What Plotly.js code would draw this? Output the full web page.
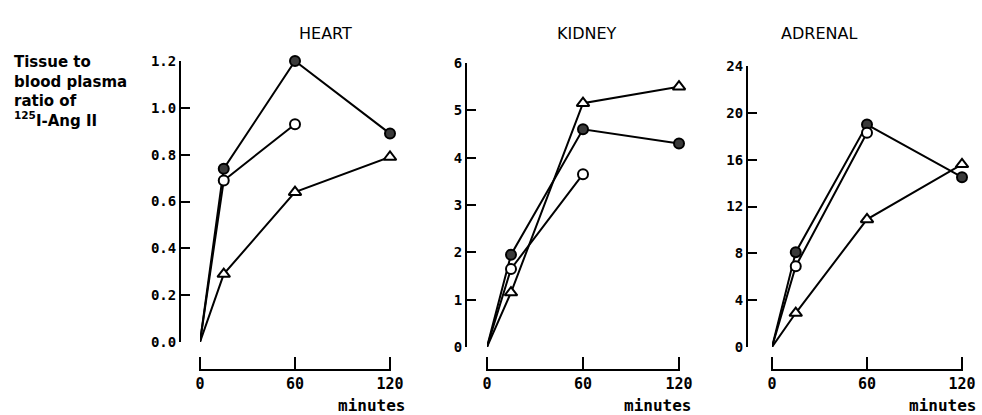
<!DOCTYPE html>
<html><head><meta charset="utf-8">
<script src="https://cdn.plot.ly/plotly-3.0.1.min.js"></script>
<style>html,body{margin:0;padding:0;background:#fff}#chart{width:982px;height:415px}</style>
</head><body><div id="chart"></div>
<script>
// time points (minutes)
const timesFull = [0, 15, 60, 120];
const timesShort = [0, 15, 60];

// panel titles
const panelTitles = ["HEART", "KIDNEY", "ADRENAL"];

// HEART
const heartFilled = [0, 0.74, 1.20, 0.89];
const heartOpen = [0, 0.69, 0.93];
const heartTriangle = [0, 0.29, 0.64, 0.79];

// KIDNEY
const kidneyFilled = [0, 1.95, 4.6, 4.3];
const kidneyOpen = [0, 1.65, 3.65];
const kidneyTriangle = [0, 1.15, 5.15, 5.5];

// ADRENAL
const adrenalFilled = [0, 8.1, 19.0, 14.5];
const adrenalOpen = [0, 6.9, 18.3];
const adrenalTriangle = [0, 2.9, 10.9, 15.6];

// axis ticks
const xTicks = [0, 60, 120];
const xRange = [0, 120];
const heartYTicks = [0, 0.2, 0.4, 0.6, 0.8, 1.0, 1.2];
const heartYLabels = ["0.0", "0.2", "0.4", "0.6", "0.8", "1.0", "1.2"];
const kidneyYTicks = [0, 1, 2, 3, 4, 5, 6];
const adrenalYTicks = [0, 4, 8, 12, 16, 20, 24];

const W = 982, H = 415;
const px = v => v / W;
const py = v => 1 - v / H;

// each series: a line from the origin, plus markers on the measured (non-origin) points
function series(x, y, xa, ya, kind) {
  const line = {x: x, y: y, xaxis: xa, yaxis: ya, type: 'scatter', mode: 'lines',
    line: {color: '#000', width: 2}, cliponaxis: false, showlegend: false, hoverinfo: 'skip'};
  const keep = x.map((t, i) => i).filter(i => x[i] !== 0);
  const m = {size: 10, line: {color: '#000', width: 2}};
  if (kind === 'filled') { m.symbol = 'circle'; m.color = '#3a3a3a'; }
  else if (kind === 'open') { m.symbol = 'circle'; m.color = '#fff'; }
  else { m.symbol = 'triangle-up'; m.color = '#fff'; m.size = 11; }
  const pts = {x: keep.map(i => x[i]), y: keep.map(i => y[i]), xaxis: xa, yaxis: ya,
    type: 'scatter', mode: 'markers', marker: m, cliponaxis: false, showlegend: false,
    hoverinfo: 'skip'};
  return [line, pts];
}

const data = [].concat(
  series(timesFull, heartFilled, 'x', 'y', 'filled'),
  series(timesShort, heartOpen, 'x', 'y', 'open'),
  series(timesFull, heartTriangle, 'x', 'y', 'tri'),
  series(timesFull, kidneyFilled, 'x2', 'y2', 'filled'),
  series(timesShort, kidneyOpen, 'x2', 'y2', 'open'),
  series(timesFull, kidneyTriangle, 'x2', 'y2', 'tri'),
  series(timesFull, adrenalFilled, 'x3', 'y3', 'filled'),
  series(timesShort, adrenalOpen, 'x3', 'y3', 'open'),
  series(timesFull, adrenalTriangle, 'x3', 'y3', 'tri')
);

const yTickFont = {family: 'DejaVu Sans Mono', size: 14, color: '#000', weight: 'bold'};
const xTickFont = {family: 'DejaVu Sans Mono', size: 15, color: '#000', weight: 'bold'};
const BASE = 370;   // pixel row of the time-axis baseline

function xaxis(x0, x1) {
  return {domain: [px(x0), px(x1)], range: xRange, anchor: 'free', position: py(BASE),
    showline: false, ticks: '', tickvals: xTicks, showgrid: false, zeroline: false,
    tickfont: xTickFont, ticklabelstandoff: 3, fixedrange: true};
}
function yaxis(yBottom, yTop, xpos, rng, vals, labels) {
  const a = {domain: [py(yBottom), py(yTop)], range: rng, anchor: 'free', position: px(xpos),
    showline: true, linecolor: '#000', linewidth: 2, ticks: 'inside', ticklen: 9,
    tickwidth: 2, tickcolor: '#000', tickvals: vals, showgrid: false, zeroline: false,
    tickfont: yTickFont, fixedrange: true};
  if (labels) a.ticktext = labels;
  return a;
}

const xa1 = xaxis(200, 390), xa2 = xaxis(487, 679), xa3 = xaxis(772, 962);

// time-axis baseline and upward ticks, placed along each x-axis domain from the tick values
const shapes = [];
[xa1, xa2, xa3].forEach(ax => {
  const d = ax.domain;
  const frac = t => d[0] + (t - xRange[0]) / (xRange[1] - xRange[0]) * (d[1] - d[0]);
  shapes.push({type: 'line', xref: 'paper', yref: 'paper', layer: 'above',
    x0: frac(xTicks[0]), x1: frac(xTicks[xTicks.length - 1]),
    y0: py(BASE), y1: py(BASE), line: {color: '#000', width: 2}});
  xTicks.forEach(t => shapes.push({type: 'line', xref: 'paper', yref: 'paper', layer: 'above',
    x0: frac(t), x1: frac(t), y0: py(BASE + 1), y1: py(BASE - 13),
    line: {color: '#000', width: 2}}));
});

const titleFont = {family: 'DejaVu Sans', size: 16, color: '#000'};
const minFont = {family: 'DejaVu Sans Mono', size: 16, color: '#000', weight: 'bold'};
const layout = {
  width: W, height: H, margin: {l: 0, r: 0, t: 0, b: 0},
  paper_bgcolor: '#fff', plot_bgcolor: 'rgba(0,0,0,0)',
  xaxis: xa1,
  yaxis: yaxis(342, 61, 180, [0, 1.2], heartYTicks, heartYLabels),
  xaxis2: xa2,
  yaxis2: yaxis(347, 63, 466, [0, 6], kidneyYTicks),
  xaxis3: xa3,
  yaxis3: yaxis(347, 66, 747, [0, 24], adrenalYTicks),
  shapes: shapes,
  annotations: [
    {text: panelTitles[0], x: px(297), y: py(22), xref: 'paper', yref: 'paper', showarrow: false, font: titleFont},
    {text: panelTitles[1], x: px(587), y: py(22), xref: 'paper', yref: 'paper', showarrow: false, font: titleFont},
    {text: panelTitles[2], x: px(859), y: py(22), xref: 'paper', yref: 'paper', showarrow: false, font: titleFont},
    {text: 'minutes', x: px(407), y: py(405), xref: 'paper', yref: 'paper', xanchor: 'right', yanchor: 'middle', showarrow: false, font: minFont},
    {text: 'minutes', x: px(693), y: py(405), xref: 'paper', yref: 'paper', xanchor: 'right', yanchor: 'middle', showarrow: false, font: minFont},
    {text: 'minutes', x: px(978), y: py(405), xref: 'paper', yref: 'paper', xanchor: 'right', yanchor: 'middle', showarrow: false, font: minFont},
    {text: 'Tissue to<br>blood plasma<br>ratio of<br><sup>125</sup>I-Ang II', x: px(12), y: py(51),
      xref: 'paper', yref: 'paper', xanchor: 'left', yanchor: 'top', align: 'left', showarrow: false,
      font: {family: 'DejaVu Sans', size: 15, color: '#000', weight: 'bold'}}
  ]
};

Plotly.newPlot('chart', data, layout, {staticPlot: true, displayModeBar: false});
</script>
</body></html>
